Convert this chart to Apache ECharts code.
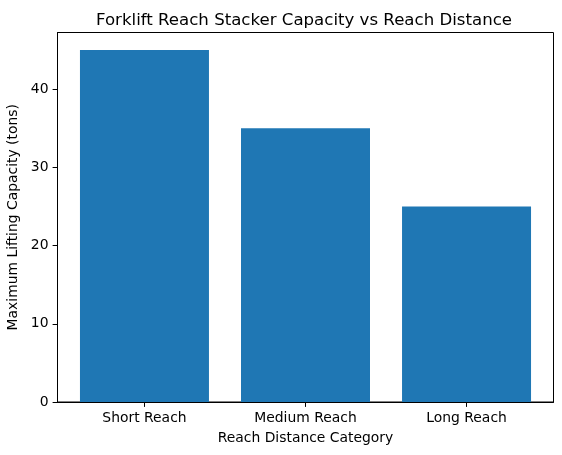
<!DOCTYPE html>
<html><head><meta charset="utf-8">
<script src="https://cdn.jsdelivr.net/npm/echarts@6/dist/echarts.min.js"></script>
<style>html,body{margin:0;padding:0;background:#fff}#c{width:562px;height:455px}</style>
</head><body><div id="c"></div>
<script>
const categories = ["Short Reach", "Medium Reach", "Long Reach"];
const capacities = [45, 35, 25];
const yTicks = [0, 10, 20, 30, 40];

const chart = echarts.init(document.getElementById('c'), null, {renderer: 'canvas'});
const font = 'DejaVu Sans';
chart.setOption({
  animation: false,
  backgroundColor: '#fff',
  title: {
    text: 'Forklift Reach Stacker Capacity vs Reach Distance',
    left: 91, top: 7,
    textStyle: {fontFamily: font, fontSize: 16.6, fontWeight: 'normal', color: '#000'}
  },
  grid: {left: 57.5, top: 32.5, right: 8.5, bottom: 53, outerBoundsMode: 'none', containLabel: false,
    show: true, borderColor: '#000', borderWidth: 1, backgroundColor: 'transparent'},
  xAxis: {
    type: 'value', min: -0.54, max: 2.54,
    name: 'Reach Distance Category', nameLocation: 'middle', nameGap: 29,
    nameTextStyle: {fontFamily: font, fontSize: 13.9, color: '#000'},
    splitLine: {show: false},
    axisLine: {show: true, onZero: false, lineStyle: {color: '#000', width: 1}},
    axisTick: {show: true, customValues: [0, 1, 2], length: 4.9, inside: false, lineStyle: {color: '#000'}},
    axisLabel: {show: true, customValues: [0, 1, 2], margin: 9, fontFamily: font, fontSize: 13.9, color: '#000',
      formatter: v => categories[Math.round(v)] || ''}
  },
  yAxis: {
    type: 'value', min: 0, max: 47.25,
    name: 'Maximum Lifting Capacity (tons)', nameLocation: 'middle', nameGap: 33,
    nameTextStyle: {fontFamily: font, fontSize: 13.9, color: '#000'},
    splitLine: {show: false},
    axisLine: {show: true, onZero: false, lineStyle: {color: '#000', width: 1}},
    axisTick: {show: true, customValues: yTicks, length: 4.9, lineStyle: {color: '#000'}},
    axisLabel: {show: true, customValues: yTicks, margin: 9, fontFamily: font, fontSize: 13.9, color: '#000'}
  },
  series: [{
    type: 'bar',
    data: capacities.map((v, i) => [i, v]),
    barWidth: 129,
    itemStyle: {color: '#1f77b4'}
  }]
});
</script></body></html>
